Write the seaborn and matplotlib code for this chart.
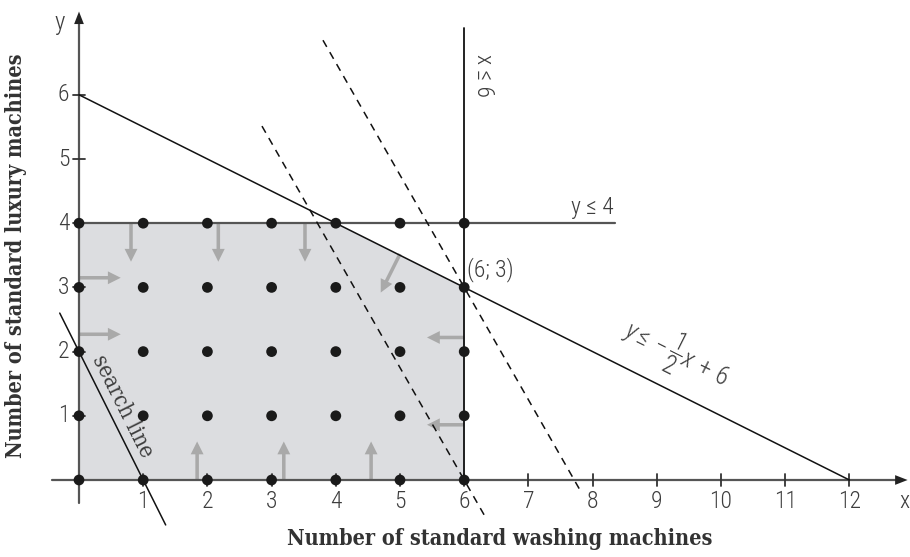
import numpy as np
import pandas as pd
import seaborn as sns
import matplotlib.pyplot as plt

# integer grid points drawn as dots
grid_x = [0, 1, 2, 3, 4, 5, 6]
grid_y = [0, 1, 2, 3, 4]

# feasible region corners
region_x = [0, 6, 6, 4, 0]
region_y = [0, 0, 3, 4, 4]

# constraint lines
slope_line = (-0.5, 6)          # y = -1/2 x + 6, drawn from x=0 to 12
cap_y = 4                       # y <= 4, drawn x=0..8.35
cap_x = 6                       # x <= 6, drawn y=0..7.0
search_slope, search_b = -2, 2  # search line 2x + y = 2
obj_slope = -1.75
dash_pts = [(6, 0), (6, 3)]     # dashed search lines through these points
dash_ranges = [(2.85, 6.33), (3.80, 7.83)]

x_ticks = list(range(1, 13))
y_ticks = list(range(1, 7))

# gray arrows (start x, start y, dx, dy)
arrows = [
    (0.81, 4.0, 0, -0.6), (2.17, 4.0, 0, -0.6), (3.52, 4.0, 0, -0.6),
    (5.0, 3.52, -0.3, -0.6),
    (0.0, 3.15, 0.65, 0), (0.0, 2.27, 0.65, 0),
    (6.0, 2.22, -0.58, 0), (6.0, 0.86, -0.58, 0),
    (1.84, 0.0, 0, 0.6), (3.19, 0.0, 0, 0.6), (4.55, 0.0, 0, 0.6),
]

sns.set_style("white")
plt.rcParams['font.family'] = ['Roboto Condensed', 'DejaVu Sans']
plt.rcParams['mathtext.fontset'] = 'custom'
plt.rcParams['mathtext.rm'] = 'Roboto Condensed:light'
plt.rcParams['mathtext.it'] = 'Roboto Condensed:italic:light'

light = dict(fontweight='light', color='#3d3d3d')

fig = plt.figure(figsize=(9.1, 5.57), dpi=100)
ax = fig.add_axes([0, 0, 1, 1])

axis_col = '#555555'
ax.fill(region_x, region_y, color='#dcdde0', zorder=1)

# axes with arrows
ax.plot([-0.42, 12.75], [0, 0], color=axis_col, lw=1.6, zorder=3)
ax.plot([0, 0], [-0.36, 7.2], color=axis_col, lw=1.6, zorder=3)
ax.annotate('', xy=(12.95, 0), xytext=(12.6, 0),
            arrowprops=dict(arrowstyle='-|>,head_width=0.35,head_length=0.9', color='#222222', lw=0), zorder=4)
ax.annotate('', xy=(0, 7.34), xytext=(0, 7.0),
            arrowprops=dict(arrowstyle='-|>,head_width=0.35,head_length=0.9', color='#222222', lw=0), zorder=4)

tk = 0.1
for t in x_ticks:
    ax.plot([t, t], [-tk, tk], color='#333333', lw=1.3, zorder=3)
    ax.text(t, -0.16, str(t), ha='center', va='top', fontsize=17, **light)
for t in y_ticks:
    ax.plot([-tk, tk], [t, t], color='#333333', lw=1.3, zorder=3)
    ax.text(-0.15, t, str(t), ha='right', va='center', fontsize=17, **light)
ax.text(12.85, -0.16, 'x', ha='center', va='top', fontsize=17, **light)
ax.text(-0.3, 7.12, 'y', ha='center', va='center', fontsize=18, **light)

# constraint lines
lx = np.array([0, 12])
ax.plot(lx, slope_line[0] * lx + slope_line[1], color='#111111', lw=1.1, zorder=3)
ax.plot([0, 8.35], [cap_y, cap_y], color=axis_col, lw=1.6, zorder=3)
ax.plot([cap_x, cap_x], [0, 7.04], color='#111111', lw=1.3, zorder=3)

sx = np.array([-0.3, 1.35])
ax.plot(sx, search_slope * sx + search_b, color='#111111', lw=1.1, zorder=3)
for (px, py), (x0, x1) in zip(dash_pts, dash_ranges):
    dx = np.array([x0, x1])
    ax.plot(dx, py + obj_slope * (dx - px), color='#111111', lw=1.1,
            ls=(0, (5, 4)), zorder=3)

# gray arrows
for x0, y0, ddx, ddy in arrows:
    ax.arrow(x0, y0, ddx, ddy, width=0.055, head_width=0.2, head_length=0.2,
             length_includes_head=True, color='#a9a9a9', lw=0, zorder=2)

# grid dots
pts = pd.DataFrame([(gx, gy) for gy in grid_y for gx in grid_x], columns=['x', 'y'])
sns.scatterplot(data=pts, x='x', y='y', ax=ax, color='#1a1a1a', s=60,
                edgecolor='none', zorder=5, legend=False)
ax.set_xlim(-79 / 64.2, (910 - 79) / 64.2)
ax.set_ylim(-77 / 64.2, 480 / 64.2)
ax.axis('off')

# labels
ax.text(8.33, 4.07, 'y ≤ 4', ha='right', va='bottom', fontsize=17, **light)
ax.text(6.3, 6.3, 'x ≤ 6', ha='center', va='center', rotation=-90, fontsize=17, **light)
ax.text(6.05, 3.08, '(6; 3)', ha='left', va='bottom', fontsize=17, **light)
ax.text(9.3, 1.98, r'$y \leq -\dfrac{1}{2}x\,+\,6$', ha='center', va='center',
        rotation=-26.6, rotation_mode='anchor', fontsize=18, color='#3d3d3d')
ax.text(0.67, 1.15, 'search line', ha='center', va='center', rotation=-63.4,
        rotation_mode='anchor', fontsize=16, color='#3d3d3d',
        family='DejaVu Serif', fontstretch='condensed')

ax.text(6.55, -0.92, 'Number of standard washing machines', ha='center', va='center',
        fontsize=15.5, fontweight='bold', color='#333333', family='DejaVu Serif',
        fontstretch='condensed')
ax.text(-0.98, 3.5, 'Number of standard luxury machines', ha='center', va='center',
        rotation=90, fontsize=15.5, fontweight='bold', color='#333333', family='DejaVu Serif',
        fontstretch='condensed')

fig.savefig('out.png', dpi=100)
